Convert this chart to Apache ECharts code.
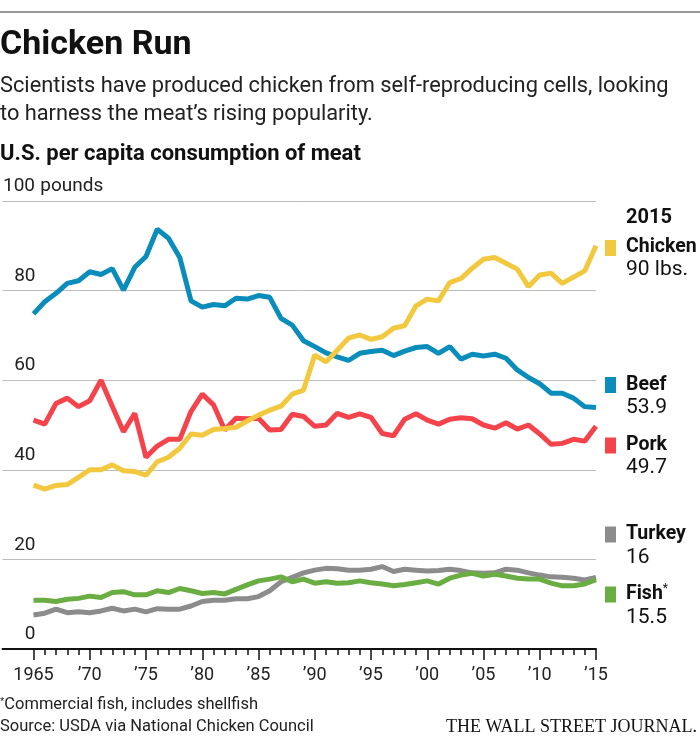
<!DOCTYPE html>
<html><head><meta charset="utf-8">
<script src="https://cdn.jsdelivr.net/npm/echarts@6/dist/echarts.min.js"></script>
<style>html,body{margin:0;padding:0;background:#fff}#c{width:700px;height:741px}</style>
</head><body><div id="c"></div>
<script>
const years = [1965,1966,1967,1968,1969,1970,1971,1972,1973,1974,1975,1976,1977,1978,1979,1980,1981,1982,1983,1984,1985,1986,1987,1988,1989,1990,1991,1992,1993,1994,1995,1996,1997,1998,1999,2000,2001,2002,2003,2004,2005,2006,2007,2008,2009,2010,2011,2012,2013,2014,2015];
const chicken = [36.6,35.7,36.5,36.7,38.3,40.0,40.0,41.1,39.8,39.6,38.8,41.8,42.8,44.8,48.0,47.7,49.0,49.2,49.5,50.9,52.2,53.3,54.2,56.9,57.8,65.6,64.1,66.7,69.4,70.1,69.1,69.7,71.6,72.2,76.6,78.1,77.7,81.8,82.7,85.0,87.0,87.4,86.1,84.8,80.9,83.5,83.9,81.6,83.0,84.4,90.0];
const beef = [74.8,77.5,79.4,81.6,82.2,84.2,83.6,84.9,80.1,85.2,87.6,93.7,91.7,87.4,77.7,76.3,76.9,76.6,78.3,78.1,78.9,78.5,73.8,72.3,68.8,67.5,66.1,65.2,64.4,66.0,66.4,66.7,65.5,66.5,67.3,67.5,66.0,67.5,64.7,65.8,65.4,65.8,64.9,62.3,60.6,59.2,57.1,57.1,56.0,54.1,53.9];
const pork = [51.1,50.2,54.8,56.0,54.1,55.4,60.0,54.2,48.5,52.6,42.8,45.3,46.8,46.8,53.0,56.9,54.5,48.9,51.5,51.4,51.5,48.9,49.0,52.4,51.9,49.7,50.0,52.6,51.7,52.5,51.7,48.1,47.6,51.3,52.5,51.1,50.2,51.3,51.6,51.4,50.0,49.3,50.5,49.1,50.0,48.0,45.7,45.9,46.8,46.4,49.7];
const turkey = [7.6,8.0,8.9,8.1,8.3,8.1,8.5,9.1,8.5,8.9,8.3,9.0,8.9,8.9,9.6,10.6,10.9,10.9,11.2,11.2,11.7,13.0,15.0,16.0,17.0,17.6,18.0,17.9,17.6,17.6,17.8,18.4,17.3,17.8,17.6,17.4,17.5,17.8,17.5,17.0,16.9,17.0,17.8,17.6,17.0,16.5,16.1,16.0,15.8,15.4,16.0];
const fish = [10.9,10.9,10.6,11.1,11.3,11.8,11.5,12.6,12.8,12.1,12.1,13.0,12.6,13.5,13.0,12.4,12.6,12.3,13.3,14.3,15.2,15.6,16.1,15.0,15.6,14.7,15.0,14.7,14.8,15.2,14.8,14.5,14.1,14.4,14.8,15.2,14.5,15.8,16.5,16.9,16.3,16.7,16.3,15.8,15.6,15.6,14.7,14.1,14.1,14.5,15.5];
const yTicks = [0,20,40,60,80,100];
const xTickLabels = {1965:'1965',1970:'’70',1975:'’75',1980:'’80',1985:'’85',1990:'’90',1995:'’95',2000:'’00',2005:'’05',2010:'’10',2015:'’15'};
const seriesNames = ['Turkey','Fish','Pork','Beef','Chicken'];
const seriesData = [turkey, fish, pork, beef, chicken];
const colors = {Chicken:'#f2c83f', Beef:'#0b8dbb', Pork:'#f4434b', Turkey:'#8c8c8c', Fish:'#6aad42'};
const endLabels = [
  {name:'Chicken', value:'90 lbs.'},
  {name:'Beef', value:'53.9'},
  {name:'Pork', value:'49.7'},
  {name:'Turkey', value:'16'},
  {name:'Fish', value:'15.5'}
];

const F = '"Roboto","Noto Sans",sans-serif';
const chart = echarts.init(document.getElementById('c'));

const gTop = 201, gBottom = 92, gRight = 104;
const labelPos = {Chicken:[247.5,270,248], Beef:[385.5,408,385], Pork:[445.5,468,445.5], Turkey:[534,557.5,534.5], Fish:[594,618,594.5]};

const graphics = [
  {type:'line', shape:{x1:0,y1:12,x2:700,y2:12}, style:{stroke:'#333', lineWidth:1}},
  {type:'text', x:0, y:45.5, style:{text:'Chicken Run', font:'bold 34px '+F, fill:'#111', verticalAlign:'middle'}},
  {type:'text', x:0, y:87, style:{text:'Scientists have produced chicken from self-reproducing cells, looking', font:'21.8px '+F, fill:'#222', verticalAlign:'middle'}},
  {type:'text', x:0, y:115, style:{text:'to harness the meat’s rising popularity.', font:'21.8px '+F, fill:'#222', verticalAlign:'middle'}},
  {type:'text', x:0, y:154, style:{text:'U.S. per capita consumption of meat', font:'bold 22px '+F, fill:'#111', verticalAlign:'middle'}},
  {type:'text', x:626, y:218, style:{text:'2015', font:'bold 20px '+F, fill:'#111', verticalAlign:'middle'}},
  {type:'text', x:0, y:705, style:{text:'{s|*}Commercial fish, includes shellfish', font:'16.5px '+F, fill:'#222', verticalAlign:'middle', rich:{s:{fontSize:11, verticalAlign:'top', fill:'#222', font:'11px '+F}}}},
  {type:'text', x:0, y:727, style:{text:'Source: USDA via National Chicken Council', font:'16.5px '+F, fill:'#222', verticalAlign:'middle'}},
  {type:'text', x:697, y:727, style:{text:'THE WALL STREET JOURNAL.', font:'18px "Liberation Serif",serif', fill:'#111', align:'right', verticalAlign:'middle'}}
];
endLabels.forEach(l => {
  const p = labelPos[l.name];
  graphics.push({type:'rect', shape:{x:605, y:p[2]-8, width:11, height:16}, style:{fill:colors[l.name]}});
  const nm = l.name === 'Fish' ? 'Fish{s|*}' : l.name;
  graphics.push({type:'text', x:626, y:p[0], style:{text:nm, font:'bold 19.5px '+F, fill:'#111', verticalAlign:'middle', rich:{s:{font:'12px '+F, fill:'#111', verticalAlign:'top', padding:[0,0,10,0]}}}});
  graphics.push({type:'text', x:626, y:p[1], style:{text:l.value, font:'21px '+F, fill:'#111', verticalAlign:'middle'}});
});

const option = {
  animation:false,
  backgroundColor:'#fff',
  grid:[
    {left:0, right:gRight, top:gTop, bottom:gBottom, containLabel:false},
    {left:33.5, right:gRight, top:gTop, bottom:gBottom, containLabel:false}
  ],
  xAxis:[
    {gridIndex:0, type:'value', min:0, max:1, axisLine:{show:true, onZero:false, lineStyle:{color:'#111', width:2}}, axisTick:{show:false}, axisLabel:{show:false}, splitLine:{show:false}},
    {gridIndex:1, type:'value', min:1965, max:2015, interval:5,
      axisLine:{show:false}, splitLine:{show:false},
      axisTick:{show:true, length:11, lineStyle:{color:'#111', width:1.5}},
      minorTick:{show:true, splitNumber:5, length:6, lineStyle:{color:'#111', width:1.5}},
      axisLabel:{show:true, margin:17, formatter:v => xTickLabels[v] || '', fontFamily:F, fontSize:18, color:'#222'}}
  ],
  yAxis:[
    {gridIndex:0, type:'value', min:0, max:100, interval:20,
      axisLine:{show:false}, axisTick:{show:false},
      splitLine:{show:true, lineStyle:{color:'#bdbdbd', width:1}},
      axisLabel:{show:true, inside:false, align:'left', margin:0, verticalAlign:'bottom', padding:[0,0,5,0],
        formatter:v => yTicks.indexOf(v) < 0 ? '' : (v===100 ? '{n|100}{u| pounds}' : '{n|'+v+'}'),
        rich:{n:{width:33, align:'right', fontFamily:F, fontSize:19, color:'#222'}, u:{fontFamily:F, fontSize:19, color:'#222'}}}},
    {gridIndex:1, type:'value', min:0, max:100, show:false}
  ],
  series: seriesNames.map((n, k) => ({
    name:n, type:'line', xAxisIndex:1, yAxisIndex:1, symbol:'none', z:3+k,
    lineStyle:{color:colors[n], width:5, cap:'butt'},
    data: years.map((y, i) => [y, seriesData[k][i]])
  })),
  graphic: graphics
};
chart.setOption(option);
</script>
</body></html>
